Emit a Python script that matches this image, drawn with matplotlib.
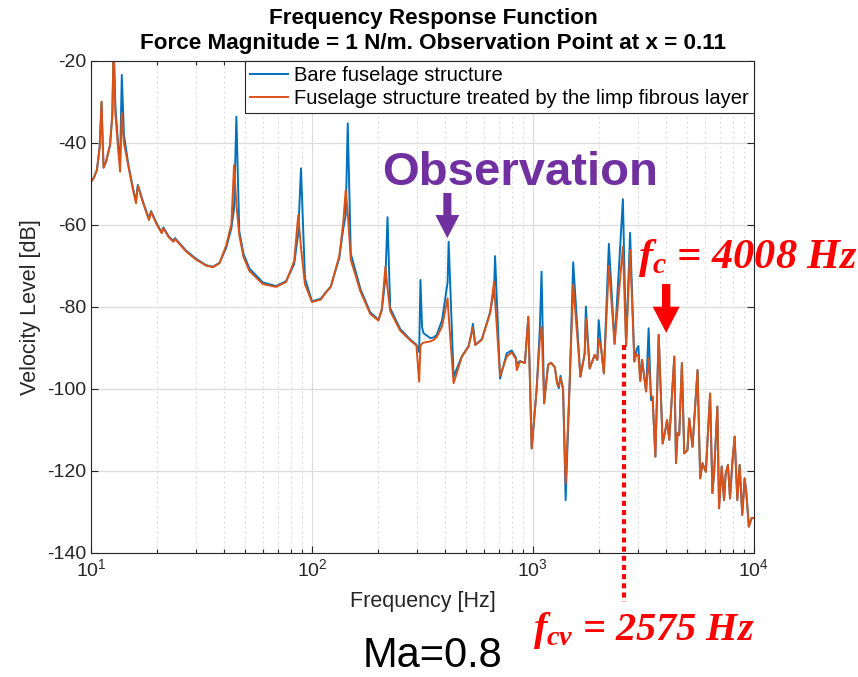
import matplotlib
matplotlib.use("Agg")
import matplotlib.pyplot as plt
from matplotlib.ticker import LogLocator, NullFormatter

plt.rcParams["font.family"] = ["Liberation Sans", "DejaVu Sans"]
plt.rcParams["axes.unicode_minus"] = False
plt.rcParams["mathtext.fontset"] = "custom"
plt.rcParams["mathtext.it"] = "Liberation Serif:italic:bold"
plt.rcParams["mathtext.rm"] = "Liberation Serif:italic:bold"
plt.rcParams["mathtext.bf"] = "Liberation Serif:bold"

# Frequency response samples (Hz, dB)
freq_hz = [
    10.0, 10.3, 10.64, 10.95, 11.17, 11.3, 11.41, 11.7, 12.2, 12.5,
    12.66, 12.9, 13.3, 13.55, 13.79, 14.1, 14.78, 15.5, 15.99, 16.3,
    17.2, 18.3, 18.7, 19.8, 20.9, 21.26, 22.5, 23.6, 24.0, 27.0,
    30.0, 33.2, 35.7, 38.2, 40.9, 43.2, 44.4, 45.5, 46.9, 49.0,
    52.1, 59.9, 68.8, 76.4, 83.1, 86.7, 89.2, 93.0, 100.0, 109.6,
    115.5, 121.7, 133.0, 138.5, 142.2, 145.2, 149.9, 165.7, 183.5, 200.0,
    207.0, 215.0, 219.8, 226.0, 251.0, 278.0, 297.0, 305.6, 309.7, 315.0,
    320.0, 343.5, 356.0, 367.0, 388.0, 411.0, 415.5, 437.5, 477.0, 511.0,
    526.0, 535.0, 548.0, 587.0, 640.0, 667.0, 674.0, 710.0, 761.0, 802.0,
    836.0, 845.0, 874.0, 920.0, 953.0, 987.0, 1039.0, 1075.0, 1094.0, 1124.0,
    1171.0, 1209.0, 1256.0, 1287.0, 1309.0, 1333.0, 1369.0, 1406.0, 1468.0, 1521.0,
    1640.0, 1715.0, 1736.0, 1806.0, 1902.0, 1957.0, 1984.0, 2035.0, 2093.0, 2206.0,
    2341.0, 2553.0, 2640.0, 2752.0, 2877.0, 2940.0, 3000.0, 3060.0, 3118.0, 3251.0,
    3338.0, 3421.0, 3478.0, 3581.0, 3707.0, 3864.0, 3974.0, 4045.0, 4140.0, 4362.0,
    4440.0, 4512.0, 4592.0, 4722.0, 4838.0, 5003.0, 5096.0, 5273.0, 5556.0, 5713.0,
    5850.0, 6058.0, 6334.0, 6488.0, 6600.0, 6834.0, 6952.0, 7150.0, 7323.0, 7451.0,
    7631.0, 7795.0, 7983.0, 8180.0, 8410.0, 8616.0, 8852.0, 9078.0, 9226.0, 9487.0,
    9755.0, 10000.0,
]

bare_db = [
    -49.5, -48.5, -46.6, -41.0, -30.0, -40.0, -46.0, -44.6, -40.5, -33.0,
    -16.0, -31.0, -41.0, -44.5, -23.4, -38.0, -45.4, -51.0, -54.2, -50.2,
    -54.3, -58.5, -56.6, -59.5, -61.8, -60.6, -62.8, -63.9, -63.2, -66.3,
    -68.3, -69.8, -70.2, -69.2, -65.6, -60.8, -56.0, -33.6, -61.5, -67.0,
    -70.6, -74.0, -74.9, -73.7, -69.5, -62.0, -46.2, -73.0, -78.6, -78.0,
    -76.4, -75.0, -68.0, -61.0, -57.5, -35.2, -67.0, -75.6, -81.3, -83.1,
    -80.8, -73.0, -58.1, -80.3, -85.4, -87.9, -89.2, -91.0, -73.4, -85.0,
    -86.4, -87.6, -87.4, -86.8, -83.2, -74.0, -64.1, -97.0, -92.0, -89.6,
    -86.7, -84.1, -89.2, -87.9, -81.3, -76.0, -67.6, -97.5, -91.3, -90.6,
    -92.3, -93.8, -93.2, -93.6, -82.4, -114.5, -100.2, -85.0, -71.4, -103.5,
    -94.1, -93.6, -94.7, -98.6, -99.8, -96.8, -100.0, -127.1, -97.8, -69.1,
    -97.0, -91.3, -79.9, -95.0, -91.7, -92.9, -83.2, -90.0, -96.2, -64.6,
    -89.0, -53.7, -89.5, -61.9, -93.3, -90.5, -89.5, -98.0, -92.9, -100.6,
    -85.2, -102.7, -101.9, -116.5, -86.8, -113.3, -110.0, -107.6, -112.4, -92.1,
    -118.1, -110.8, -111.2, -93.7, -115.7, -114.9, -107.2, -114.1, -95.4, -121.8,
    -118.1, -120.2, -101.1, -125.4, -120.6, -104.3, -129.1, -118.9, -127.1, -120.6,
    -118.5, -126.7, -118.1, -111.6, -127.1, -118.5, -130.7, -121.8, -125.0, -133.6,
    -131.5, -131.5,
]

treated_db = [
    -49.5, -48.5, -46.6, -41.0, -29.9, -40.0, -46.0, -44.6, -40.5, -33.0,
    -16.0, -33.0, -42.0, -47.0, -32.7, -40.0, -45.8, -51.5, -54.7, -50.4,
    -54.6, -58.8, -56.8, -59.8, -62.0, -60.8, -63.0, -64.1, -63.4, -66.5,
    -68.5, -69.9, -70.3, -69.3, -65.0, -59.8, -45.4, -55.0, -62.5, -67.8,
    -71.2, -74.4, -75.1, -73.9, -68.8, -57.6, -65.5, -74.5, -78.8, -78.2,
    -76.5, -75.1, -67.5, -59.5, -51.5, -57.0, -68.5, -76.2, -81.7, -83.3,
    -80.5, -70.2, -75.5, -81.0, -85.8, -88.1, -89.4, -98.2, -89.5, -88.9,
    -88.7, -88.4, -88.0, -87.3, -84.8, -77.9, -82.0, -98.6, -92.1, -89.7,
    -86.8, -85.0, -89.3, -88.0, -81.5, -73.8, -78.5, -96.8, -92.1, -91.1,
    -92.6, -95.4, -93.3, -93.7, -82.4, -114.5, -100.2, -88.0, -84.8, -103.5,
    -94.1, -93.6, -94.7, -98.6, -99.4, -97.3, -100.0, -123.0, -97.8, -74.5,
    -97.0, -91.3, -82.8, -95.0, -91.7, -92.9, -87.8, -90.0, -96.2, -70.0,
    -89.0, -65.3, -89.5, -66.1, -93.3, -91.5, -92.0, -98.0, -92.9, -100.6,
    -92.5, -101.5, -101.9, -116.5, -86.8, -113.3, -110.0, -107.6, -112.4, -92.1,
    -118.1, -110.8, -111.2, -93.7, -115.7, -114.9, -107.2, -114.1, -95.4, -121.8,
    -118.1, -120.2, -101.1, -125.4, -120.6, -104.3, -129.1, -118.9, -127.1, -120.6,
    -118.5, -126.7, -118.1, -111.6, -127.1, -118.5, -130.7, -121.8, -125.0, -133.6,
    -131.5, -131.5,
]

series_labels = ["Bare fuselage structure",
                 "Fuselage structure treated by the limp fibrous layer"]
y_ticks = [-140, -120, -100, -80, -60, -40, -20]

f_coincidence = 4008      # Hz
f_convective = 2575       # Hz
obs_freq = 410            # Hz

BLUE = "#0072BD"
ORANGE = "#D95319"
PURPLE = "#7030A0"
RED = "#FF0000"
DARK = "#262626"

fig = plt.figure(figsize=(8.58, 6.77), dpi=100)
ax = fig.add_axes([0.106, 0.1832, 0.7727, 0.7267])

ax.plot(freq_hz, bare_db, color=BLUE, lw=1.4, label=series_labels[0])
ax.plot(freq_hz, treated_db, color=ORANGE, lw=1.4, label=series_labels[1])

ax.set_xscale("log")
ax.set_xlim(10, 1e4)
ax.set_ylim(-140, -20)
ax.set_yticks(y_ticks)
ax.xaxis.set_minor_locator(LogLocator(base=10, subs=range(2, 10)))
ax.xaxis.set_minor_formatter(NullFormatter())

ax.grid(True, which="major", color="#dcdcdc", lw=0.9, ls="-")
ax.grid(True, which="minor", axis="x", color="#dcdcdc", lw=0.9, ls=(0, (1.5, 2.5)))
ax.set_axisbelow(True)

ax.tick_params(which="both", direction="in", top=True, right=True,
               colors=DARK, labelsize=14, width=0.8)
ax.tick_params(which="major", length=5)
ax.tick_params(which="minor", length=3)
for sp in ax.spines.values():
    sp.set_color(DARK)
    sp.set_linewidth(0.8)

ax.set_xlabel("Frequency [Hz]", fontsize=15.5, color=DARK, labelpad=8)
ax.set_ylabel("Velocity Level [dB]", fontsize=15.5, color=DARK, labelpad=4)

leg = ax.legend(loc="upper right", bbox_to_anchor=(1.0, 1.0), borderaxespad=0.0,
                fontsize=14.5, handlelength=1.9, handletextpad=0.3,
                borderpad=0.25, labelspacing=0.2, fancybox=False, framealpha=1.0)
leg.get_frame().set_edgecolor(DARK)
leg.get_frame().set_linewidth(0.8)

fig.text(0.505, 0.972, "Frequency Response Function", ha="center", va="center",
         fontsize=16.2, fontweight="bold", color="black")
fig.text(0.505, 0.936, "Force Magnitude = 1 N/m. Observation Point at x = 0.11",
         ha="center", va="center", fontsize=16.2, fontweight="bold", color="black")

# Observation marker
fig.text(0.606, 0.7267, "Observation", ha="center", va="baseline",
         fontsize=34, fontweight="bold", color=PURPLE)
ax.annotate("", xy=(obs_freq, -63.2), xytext=(obs_freq, -52.2),
            arrowprops=dict(arrowstyle="simple,head_width=0.86,head_length=0.83,tail_width=0.29",
                            mutation_scale=20, color=PURPLE, shrinkA=0, shrinkB=0, lw=0))

# Coincidence frequency marker
ax.annotate("", xy=(f_coincidence, -86.3), xytext=(f_coincidence, -74.4),
            arrowprops=dict(arrowstyle="simple,head_width=0.97,head_length=0.94,tail_width=0.30",
                            mutation_scale=20, color=RED, shrinkA=0, shrinkB=0, lw=0))
fig.text(0.7436, 0.6041, r"$f_c$ = %d Hz" % f_coincidence, ha="left", va="baseline",
         fontsize=30.5, family="Liberation Serif", fontweight="bold", fontstyle="italic",
         color=RED)

# Convective frequency marker
ax.plot([f_convective, f_convective], [-89.3, -152], color=RED, lw=3,
        ls=(0, (1.2, 1.0)), dash_capstyle="butt", clip_on=False, zorder=5)
fig.text(0.6212, 0.0547, r"$f_{cv}$ = %d Hz" % f_convective, ha="left", va="baseline",
         fontsize=29, family="Liberation Serif", fontweight="bold", fontstyle="italic",
         color=RED)

fig.text(0.5035, 0.0148, "Ma=0.8", ha="center", va="baseline", fontsize=30, color="black")

fig.savefig("out.png", dpi=100)
